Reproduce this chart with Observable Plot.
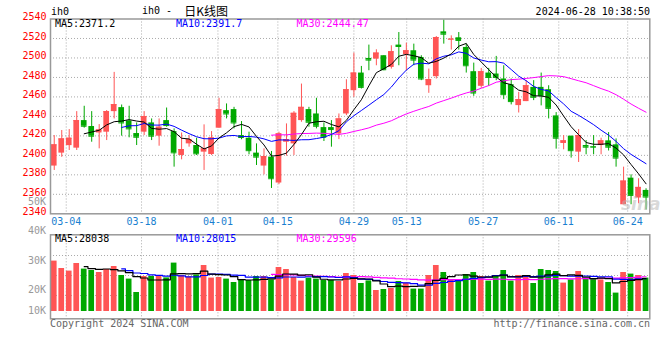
<!DOCTYPE html>
<html><head><meta charset="utf-8">
<script src="https://cdn.jsdelivr.net/npm/d3@7"></script>
<script src="https://cdn.jsdelivr.net/npm/@observablehq/plot@0.6"></script>
<style>
html,body{margin:0;padding:0;background:#fff;overflow:hidden;}
#wrap{position:relative;width:660px;height:360px;overflow:hidden;font-family:"DejaVu Sans Mono",monospace;font-size:10px;}
#wrap svg{position:absolute;left:0;}
.t{position:absolute;white-space:pre;line-height:12px;height:12px;}
</style></head><body><div id="wrap"></div>
<script>
// ---- data ----
const open = [2389,2402.3,2410,2407.4,2435.7,2429.6,2423,2423.8,2444.9,2449,
 2435.4,2422.4,2423.8,2433.3,2419.7,2435.7,2424.4,2399.9,2411.8,2410.1,
 2403.3,2400.9,2427.9,2445.9,2447,2420.3,2417.6,2402.3,2389,2398.2,
 2371.6,2413.5,2411.8,2435.7,2447,2442.5,2428.5,2428.5,2422,2442.5,
 2466.4,2484.5,2499.5,2498.8,2502.3,2490.3,2513.2,2503.3,2507.4,2500.5,
 2471.5,2480.8,2526.8,2518.6,2520.7,2510.8,2485.9,2470.9,2484.5,2483.5,
 2478.4,2472.6,2451.1,2455.2,2469.8,2469.8,2467.4,2440.5,2412.2,2419.7,
 2403.3,2410.1,2409.1,2410.1,2414.9,2410.8,2349.3,2376.6,2356.2,2364];
const high = [2420.3,2425.5,2426.5,2444.9,2450.4,2444.9,2431.6,2446,2485.2,2451.7,
 2450.4,2433.3,2444.9,2437.4,2437.4,2448.6,2427.2,2423,2420.3,2417.6,
 2431.3,2424.4,2458.6,2452.8,2449.3,2434.7,2423.8,2411.8,2406.7,2404,
 2423.8,2432.3,2444.9,2473.2,2449.3,2458.6,2433.3,2435.7,2442.5,2477.6,
 2505,2491.3,2513.2,2508.4,2502.3,2512.5,2526.1,2515.2,2514.2,2502.3,
 2488.6,2522,2539.1,2522.7,2526.1,2514.2,2494.7,2489.3,2489.3,2501.6,
 2492,2478.4,2464.7,2476.7,2476.7,2484.5,2471.5,2443.9,2420.3,2419.7,
 2426.5,2415.2,2420.3,2417.6,2423.4,2416.9,2387.9,2380,2376,2365.7];
const low = [2384.5,2398,2405,2405,2427.9,2413.5,2406.7,2415.2,2437.4,2419.7,
 2418,2410.1,2420.3,2415.2,2409.4,2428.9,2387.9,2395.4,2408.4,2399.9,
 2384.5,2399.9,2427.9,2437.4,2427.2,2416,2400.6,2389.6,2380,2366,
 2369.9,2399.2,2399.9,2434,2428.9,2427.2,2414.2,2408.4,2416.2,2440.8,
 2459.6,2468.1,2486.9,2492,2486.9,2488.6,2492,2486.9,2492,2476.7,
 2463.7,2478.4,2514.2,2508.1,2508.1,2484.5,2460.6,2468.8,2470.9,2476.7,
 2457.2,2451.8,2443.5,2455.2,2456.2,2450.8,2437.4,2406.4,2405.7,2397.2,
 2392.7,2400.6,2400.6,2400.6,2404.5,2387.9,2349.3,2349.3,2350.3,2343.9];
const close = [2410.8,2416.9,2417.6,2435.7,2429.9,2419.7,2426.1,2444.9,2452.1,2433.3,
 2427.2,2418.6,2439.8,2419.7,2428.9,2430.6,2402.6,2406,2416.2,2401.6,
 2406.7,2417.9,2447,2442.5,2433.3,2418.3,2404.8,2398.2,2398.8,2376,
 2422.1,2416.2,2443.2,2449.3,2434,2429.9,2418.6,2426.5,2437.4,2467.4,
 2484.5,2469.8,2497.8,2505,2487.9,2506.4,2511.8,2507.4,2497.8,2478.4,
 2477.7,2521,2524.4,2519.3,2518,2492,2464,2485.9,2480,2480,
 2462.3,2455.2,2457.2,2471.5,2459.6,2461.3,2448.3,2417.6,2414.9,2404.8,
 2420.3,2408.4,2408.4,2414.9,2408.4,2397.2,2373.6,2358.9,2367.1,2357.2];
const volume = [37200,33500,32200,36000,33200,32500,31500,33000,34500,30000,
 28200,21500,29500,29500,30000,28800,36200,30000,29300,30300,
 35000,28700,29000,28200,26500,27500,27500,29500,29500,27800,
 34000,33000,29000,27200,28700,28200,27500,27500,27000,31000,
 30000,26000,27300,22500,23000,23500,27000,26200,23200,23200,
 30000,35000,31500,27700,27000,30500,31500,29500,27200,30000,
 32500,27200,30000,30000,26000,33000,32500,32000,26200,27800,
 32000,28000,28000,27800,26500,21200,31500,30700,30000,28700];
const tickLabels = ["03-04","03-18","04-01","04-15","04-29","05-13","05-27","06-11","06-24"];
const tickAt = [1.6, 11.65, 21.85, 29.85, 40.0, 47.05, 57.25, 67.35, 76.55];
const priceTicks = [2540,2520,2500,2480,2460,2440,2420,2400,2380,2360,2340];
const priceGrid = [2520,2500,2480,2460,2440,2420,2400,2380,2360];
const volGrid = [20000,30000,40000];
const volTickLabels = ["50K","40K","30K","20K","10K"];
const priceLegend = ["MA5:2371.2","MA10:2391.7","MA30:2444.47"];
const volLegend = ["MA5:28038","MA10:28015","MA30:29596"];

// ---- styling / layout ----
const RED = "#ff5555", GREEN = "#00a800";
const MA_COLORS = ["#000000","#0000ff","#ff00ff"];
const GRID = {stroke:"#aaa", strokeDasharray:"1,2", strokeWidth:1};
const HW = 0.38;            // half body width in slots
const VOL_BASE = 12000;     // volume bars baseline
const wrap = document.getElementById("wrap");

const n = close.length;
const idx = d3.range(n);
const col = i => close[i] >= open[i] ? RED : GREEN;
const ma = (arr, k) => arr.map((_, i) => i < k - 1 ? null : d3.mean(arr.slice(i - k + 1, i + 1)));
const lineOf = (arr, k, stroke, extra = {}) => {
  const m = ma(arr, k);
  return Plot.line(idx.filter(i => m[i] != null), {x: i => i, y: i => m[i], stroke, strokeWidth: 1, ...extra});
};

const main = Plot.plot({
  width: 660, height: 232,
  marginLeft: 50, marginRight: 10.7, marginTop: 18.5, marginBottom: 18.7,
  style: {fontFamily: "DejaVu Sans Mono", fontSize: "10px", background: "transparent"},
  x: {domain: [-0.5, n - 0.5]},
  y: {domain: [2340, 2540]},
  color: {type: "identity"},
  marks: [
    Plot.ruleY(priceGrid, GRID),
    Plot.ruleX(tickAt, GRID),
    Plot.ruleX(idx, {x: i => i, y1: i => low[i], y2: i => high[i], stroke: col, strokeWidth: 1}),
    Plot.rect(idx, {x1: i => i - HW, x2: i => i + HW,
      y1: i => Math.min(open[i], close[i]), y2: i => Math.max(open[i], close[i]), fill: col}),
    Plot.ruleY(idx, {y: i => close[i], x1: i => i - HW, x2: i => i + HW, stroke: col, strokeWidth: 1}),
    lineOf(close, 30, MA_COLORS[2]),
    lineOf(close, 10, MA_COLORS[1]),
    lineOf(close, 5, MA_COLORS[0]),
    Plot.axisY(priceTicks, {anchor: "left", tickSize: 0, tickPadding: 4, fill: "#ff0000", dy: -2,
      tickFormat: d => String(d)}),
    Plot.axisX(tickAt, {anchor: "bottom", tickSize: 0, tickPadding: 4, fill: "#1a7fd0",
      tickFormat: d => tickLabels[tickAt.indexOf(d)]}),
    Plot.frame({stroke: "#999", strokeWidth: 1.5})
  ]
});
main.style.top = "0px";
wrap.appendChild(main);

const vol = Plot.plot({
  width: 660, height: 96,
  marginLeft: 50, marginRight: 10.7, marginTop: 2.3, marginBottom: 9.7,
  style: {fontFamily: "DejaVu Sans Mono", fontSize: "10px", background: "transparent"},
  x: {domain: [-0.5, n - 0.5], axis: null},
  y: {domain: [8350, 50350], axis: null},
  color: {type: "identity"},
  marks: [
    Plot.ruleY(volGrid, GRID),
    Plot.ruleX(tickAt, GRID),
    Plot.rect(idx, {x1: i => i - HW, x2: i => i + HW, y1: () => VOL_BASE, y2: i => volume[i], fill: col}),
    lineOf(volume, 30, MA_COLORS[2], {curve: "step", strokeWidth: 1.2}),
    lineOf(volume, 10, MA_COLORS[1], {curve: "step", strokeWidth: 1.2}),
    lineOf(volume, 5, MA_COLORS[0], {curve: "step", strokeWidth: 1.2}),
    Plot.frame({stroke: "#999", strokeWidth: 1.5})
  ]
});
vol.style.top = "232px";
wrap.appendChild(vol);

// ---- text overlays ----
function label(text, {x, y, right = false, color = "#000", size = 10, family, style = ""}) {
  const s = document.createElement("span");
  s.className = "t";
  s.textContent = text;
  s.style.top = (y - 6) + "px";
  if (right) s.style.right = (660 - x) + "px"; else s.style.left = x + "px";
  s.style.color = color;
  s.style.fontSize = size + "px";
  if (family) s.style.fontFamily = family;
  if (style) s.style.cssText += style;
  wrap.appendChild(s);
  return s;
}
label("ih0", {x: 51, y: 12});
const title = label("ih0 - ", {x: 142, y: 11});
const cjk = document.createElement("span");
cjk.textContent = "日K线图";
cjk.style.cssText = "font-family:'Noto Sans CJK SC';font-size:12px;line-height:12px;margin-left:6px;vertical-align:top;";
title.appendChild(cjk);
label("2024-06-28 10:38:50", {x: 650, y: 12, right: true});

const legX = [55, 176, 296.5];
priceLegend.forEach((t, k) => label(t, {x: legX[k], y: 24, color: MA_COLORS[k]}));
volLegend.forEach((t, k) => label(t, {x: legX[k], y: 238.5, color: MA_COLORS[k]}));

const volLabelY = [202, 230.7, 260.7, 290, 310.7];
volTickLabels.forEach((t, k) => label(t, {x: 46, y: volLabelY[k], right: true, color: "#999", size: 10}));

label("sina", {x: 621, y: 201, color: "rgba(180,180,180,0.5)", size: 17,
  family: "DejaVu Sans", style: "font-style:italic;font-weight:bold;line-height:18px;height:18px;"});

label("Copyright 2024 SINA.COM", {x: 50, y: 324, color: "#666"});
label("http://finance.sina.com.cn", {x: 650, y: 324, right: true, color: "#666"});
</script></body></html>
